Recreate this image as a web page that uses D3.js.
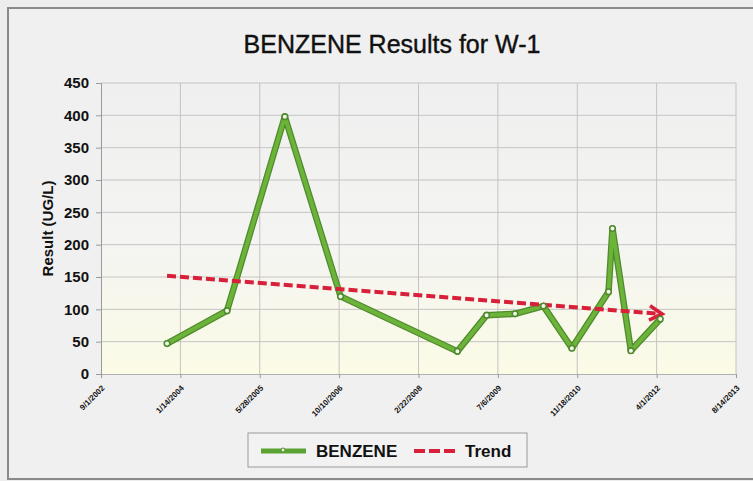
<!DOCTYPE html>
<html>
<head>
<meta charset="utf-8">
<script src="https://cdn.jsdelivr.net/npm/d3@7"></script>
<style>
  body { margin: 0; background: #ededed; }
  text { font-family: "Liberation Sans", Arial, sans-serif; }
</style>
</head>
<body>
<div id="mainChart"></div>
<script>
// sample dates and results (UG/L)
const sampleDates = ['2003-10-22', '2004-11-03', '2005-11-02', '2006-10-19', '2008-10-24', '2009-04-26',
    '2009-10-22', '2010-04-19', '2010-10-15', '2011-06-03', '2011-06-28', '2011-10-22', '2012-04-24'];
const benzene = [47, 98, 398, 120, 35, 91, 93, 105, 40, 127, 225, 36, 85];

// trend line end values (first and last sample)
const trendValues = [152, 93];

// x axis ticks every 500 days
const xTickLabels = ['9/1/2002', '1/14/2004', '5/28/2005', '10/10/2006', '2/22/2008',
    '7/6/2009', '11/18/2010', '4/1/2012', '8/14/2013'];
const yTicks = [0, 50, 100, 150, 200, 250, 300, 350, 400, 450];

const parse = d3.timeParse('%Y-%m-%d');
const parseTick = d3.timeParse('%m/%d/%Y');
const data = sampleDates.map((d, i) => ({ date: parse(d), value: benzene[i] }));
const tickDates = xTickLabels.map(parseTick);

const CHART_SIZE = { width: 753, height: 481 };
const MARGIN = { top: 83, right: 17, bottom: 107, left: 101 };

const x = d3.scaleTime()
    .domain([tickDates[0], tickDates[tickDates.length - 1]])
    .range([MARGIN.left, CHART_SIZE.width - MARGIN.right]);
const y = d3.scaleLinear()
    .domain([0, 450])
    .range([CHART_SIZE.height - MARGIN.bottom, MARGIN.top]);

const svg = d3.select('#mainChart')
    .append('svg')
    .attr('width', CHART_SIZE.width)
    .attr('height', CHART_SIZE.height);

const defs = svg.append('defs');
const grad = defs.append('linearGradient')
    .attr('id', 'plotBg').attr('x1', 0).attr('y1', 0).attr('x2', 0).attr('y2', 1);
grad.append('stop').attr('offset', '0%').attr('stop-color', '#efefef');
grad.append('stop').attr('offset', '55%').attr('stop-color', '#f4f4f2');
grad.append('stop').attr('offset', '100%').attr('stop-color', '#fbfbe6');

defs.append('marker')
    .attr('id', 'arrow')
    .attr('viewBox', '0 0 10 10')
    .attr('refX', 7).attr('refY', 5)
    .attr('markerWidth', 4.5).attr('markerHeight', 4.5)
    .attr('orient', 'auto')
    .append('path')
    .attr('d', 'M1,1 L8,5 L1,9')
    .attr('fill', 'none')
    .attr('stroke', '#d8203a')
    .attr('stroke-width', 2);

// chart frame
svg.append('rect')
    .attr('x', 8).attr('y', 8)
    .attr('width', CHART_SIZE.width + 20).attr('height', 471)
    .attr('fill', '#f0f0f0')
    .attr('stroke', '#8a8a8a')
    .attr('stroke-width', 2);

// plot area
svg.append('rect')
    .attr('x', MARGIN.left).attr('y', MARGIN.top)
    .attr('width', x.range()[1] - x.range()[0])
    .attr('height', y.range()[0] - y.range()[1])
    .attr('fill', 'url(#plotBg)');

// grid
svg.append('g')
    .selectAll('line')
    .data(yTicks.slice(1))
    .join('line')
    .attr('x1', MARGIN.left).attr('x2', x.range()[1])
    .attr('y1', d => y(d)).attr('y2', d => y(d))
    .attr('stroke', '#c4c4c4').attr('stroke-width', 1);

svg.append('g')
    .selectAll('line')
    .data(tickDates.slice(1))
    .join('line')
    .attr('x1', d => x(d)).attr('x2', d => x(d))
    .attr('y1', y(0)).attr('y2', y(450))
    .attr('stroke', '#c8c2c2').attr('stroke-width', 1);

// y axis
const yAxis = svg.append('g')
    .attr('transform', `translate(${MARGIN.left},0)`)
    .call(d3.axisLeft(y).tickValues(yTicks).tickSize(5).tickPadding(7));
yAxis.select('.domain').attr('stroke', '#9a9a9a');
yAxis.selectAll('.tick line').attr('stroke', '#9a9a9a');
yAxis.selectAll('text')
    .attr('font-size', 15).attr('font-weight', 'bold').attr('fill', '#111')
    .attr('font-family', '"Liberation Sans", Arial, sans-serif');

// x axis
const xAxis = svg.append('g')
    .attr('transform', `translate(0,${y(0)})`)
    .call(d3.axisBottom(x).tickValues(tickDates).tickSize(4)
        .tickFormat((d, i) => xTickLabels[i]));
xAxis.select('.domain').attr('stroke', '#b0b0b0');
xAxis.selectAll('.tick line').attr('stroke', '#9a9a9a');
xAxis.selectAll('text')
    .attr('font-size', 8).attr('font-weight', 'bold').attr('fill', '#111')
    .attr('font-family', '"Liberation Sans", Arial, sans-serif')
    .attr('text-anchor', 'end')
    .attr('dy', '0.3em')
    .attr('transform', 'translate(-3,8) rotate(-45)');

// titles
svg.append('text')
    .attr('x', 392).attr('y', 53)
    .attr('text-anchor', 'middle')
    .attr('font-size', 25)
    .attr('fill', '#111')
    .attr('stroke', '#111')
    .attr('stroke-width', 0.4)
    .text('BENZENE Results for W-1');

svg.append('text')
    .attr('transform', `translate(53,${(y(0) + y(450)) / 2}) rotate(-90)`)
    .attr('text-anchor', 'middle')
    .attr('font-size', 15)
    .attr('font-weight', 'bold')
    .attr('fill', '#111')
    .text('Result (UG/L)');

// benzene series
const line = d3.line().x(d => x(d.date)).y(d => y(d.value));
svg.append('path')
    .datum(data)
    .attr('d', line)
    .attr('fill', 'none')
    .attr('stroke', '#4f8a2c')
    .attr('stroke-width', 6.5)
    .attr('stroke-linejoin', 'round');
svg.append('path')
    .datum(data)
    .attr('d', line)
    .attr('fill', 'none')
    .attr('stroke', '#6cb33a')
    .attr('stroke-width', 4)
    .attr('stroke-linejoin', 'round');

// trend
const trendData = [
    { date: data[0].date, value: trendValues[0] },
    { date: data[data.length - 1].date, value: trendValues[1] }
];
svg.append('path')
    .datum(trendData)
    .attr('d', line)
    .attr('fill', 'none')
    .attr('stroke', '#d8203a')
    .attr('stroke-width', 4)
    .attr('stroke-dasharray', '9,4')
    .attr('marker-end', 'url(#arrow)');

svg.append('g')
    .selectAll('circle')
    .data(data)
    .join('circle')
    .attr('cx', d => x(d.date))
    .attr('cy', d => y(d.value))
    .attr('r', 2.8)
    .attr('fill', '#f4f8ec')
    .attr('stroke', '#4f8a2c')
    .attr('stroke-width', 1.6);

// legend
const legend = svg.append('g').attr('transform', 'translate(248,433)');
legend.append('rect')
    .attr('width', 279).attr('height', 34)
    .attr('fill', '#f2f2f2')
    .attr('stroke', '#9a9a9a');
legend.append('line')
    .attr('x1', 13).attr('x2', 58).attr('y1', 18).attr('y2', 18)
    .attr('stroke', '#5aa232').attr('stroke-width', 5);
legend.append('circle')
    .attr('cx', 35).attr('cy', 17).attr('r', 2)
    .attr('fill', '#f4f8ec').attr('stroke', '#4f8a2c').attr('stroke-width', 1);
legend.append('text')
    .attr('x', 68).attr('y', 24)
    .attr('font-size', 17).attr('font-weight', 'bold').attr('fill', '#111')
    .text('BENZENE');
legend.append('line')
    .attr('x1', 166).attr('x2', 210).attr('y1', 18).attr('y2', 18)
    .attr('stroke', '#d8203a').attr('stroke-width', 4)
    .attr('stroke-dasharray', '11,4');
legend.append('text')
    .attr('x', 217).attr('y', 24)
    .attr('font-size', 17).attr('font-weight', 'bold').attr('fill', '#111')
    .text('Trend');
</script>
</body>
</html>
